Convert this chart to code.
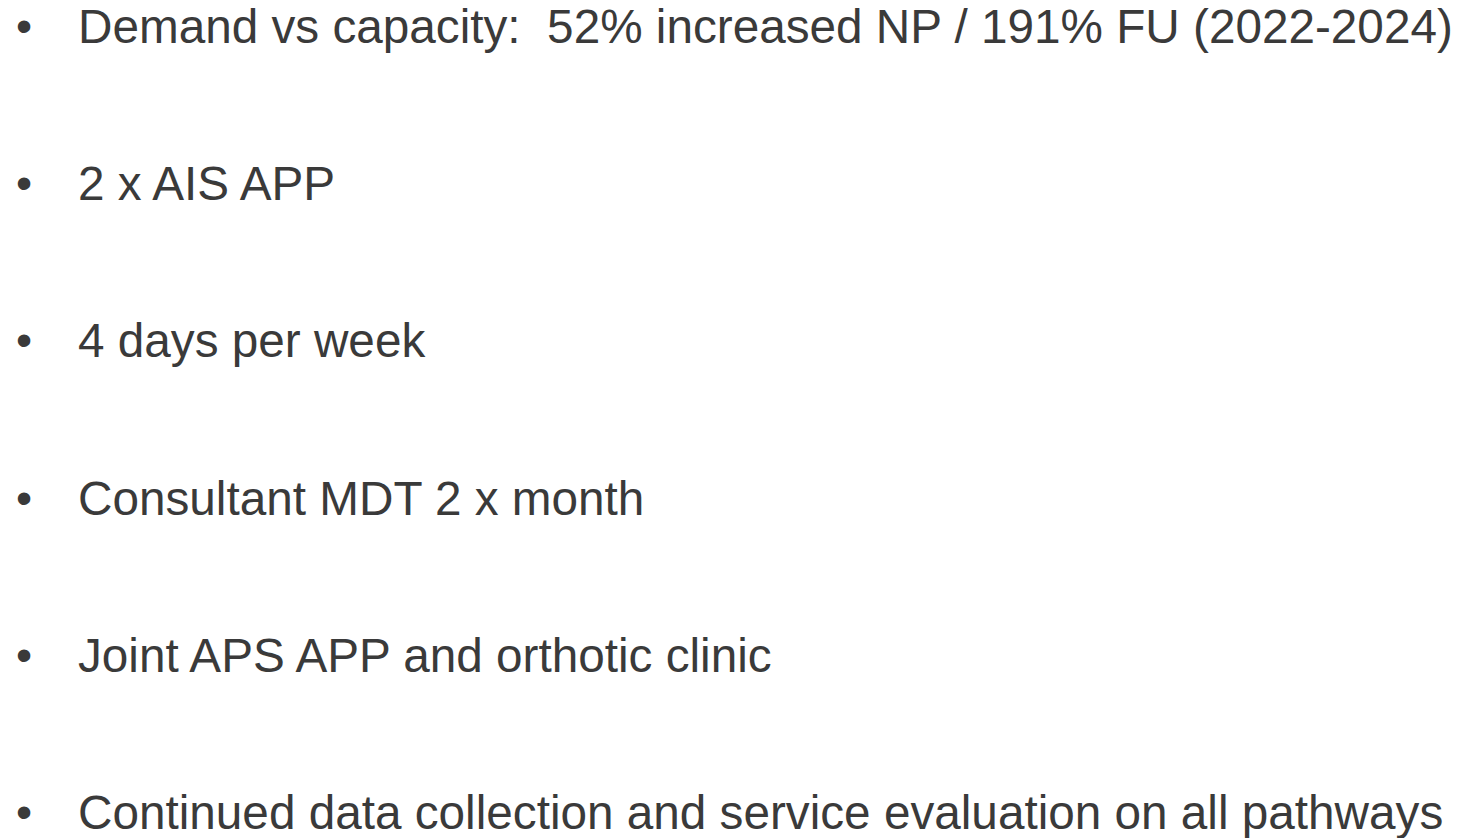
<!DOCTYPE html>
<html>
<head>
<meta charset="utf-8">
<script src="https://cdn.jsdelivr.net/npm/chart.js@4"></script>
<style>
  html, body { margin: 0; padding: 0; background: #fff; }
  body { width: 1465px; height: 838px; overflow: hidden; position: relative;
         font-family: "Liberation Sans", Arial, sans-serif; color: #3a3a3a; }
  #slide { position: absolute; left: 0; top: -52px; width: 1465px; }
  .item { position: relative; height: 157.2px; line-height: 157.2px; font-size: 47.7px; white-space: nowrap; }
  .item .dot { position: absolute; left: 16px; font-size: 46px; }
  .item .txt { position: absolute; left: 78px; }
</style>
</head>
<body>
<div id="slide"></div>
<script>
// the slide has no chart, only these bullet points
let bulletLines = [
    'Demand vs capacity:\u00a0 52% increased NP / 191% FU (2022-2024)',
    '2 x AIS APP',
    '4 days per week',
    'Consultant MDT 2 x month',
    'Joint APS APP and orthotic clinic',
    'Continued data collection and service evaluation on all pathways'
];

let slide = document.getElementById('slide');
bulletLines.forEach(function(line) {
    let item = document.createElement('div');
    item.className = 'item';
    let dot = document.createElement('span');
    dot.className = 'dot';
    dot.textContent = '\u2022';
    let txt = document.createElement('span');
    txt.className = 'txt';
    txt.textContent = line;
    item.appendChild(dot);
    item.appendChild(txt);
    slide.appendChild(item);
});
</script>
</body>
</html>
